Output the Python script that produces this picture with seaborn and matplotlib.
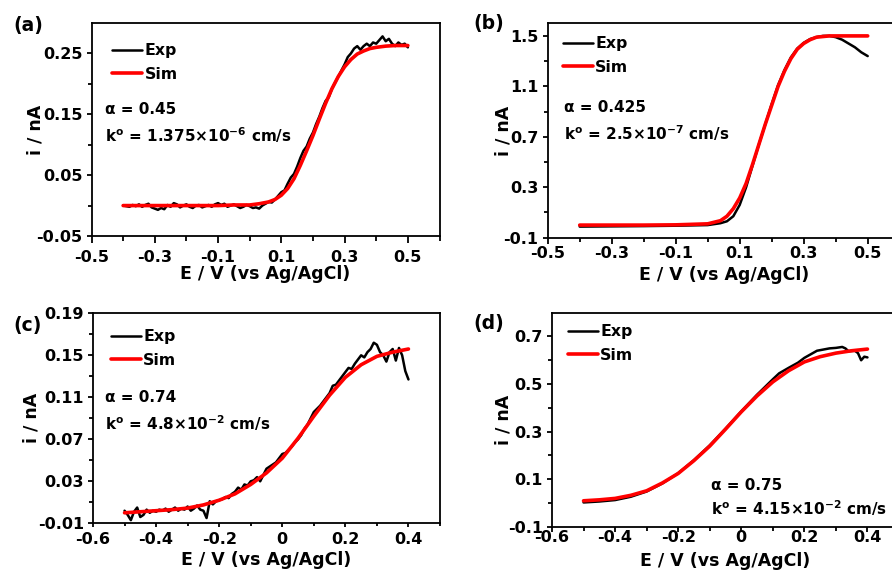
import matplotlib
matplotlib.use("Agg")
import matplotlib.pyplot as plt
import seaborn as sns
from matplotlib.ticker import FixedLocator

# ---------------- data ----------------
# panel (a)
a_exp_E = [-0.40, -0.39, -0.38, -0.37, -0.36, -0.35, -0.34, -0.33, -0.32, -0.31,
           -0.30, -0.29, -0.28, -0.27, -0.26, -0.25, -0.24, -0.23, -0.22, -0.21,
           -0.20, -0.19, -0.18, -0.17, -0.16, -0.15, -0.14, -0.13, -0.12, -0.11,
           -0.10, -0.09, -0.08, -0.07, -0.06, -0.05, -0.04, -0.03, -0.02, -0.01,
           0.00, 0.01, 0.02, 0.03, 0.04, 0.05, 0.06, 0.07, 0.08, 0.09,
           0.10, 0.11, 0.12, 0.13, 0.14, 0.15, 0.16, 0.17, 0.18, 0.19,
           0.20, 0.21, 0.22, 0.23, 0.24, 0.25, 0.26, 0.27, 0.28, 0.29,
           0.30, 0.31, 0.32, 0.33, 0.34, 0.35, 0.36, 0.37, 0.38, 0.39,
           0.40, 0.41, 0.42, 0.43, 0.44, 0.45, 0.46, 0.47, 0.48, 0.49, 0.50]
a_exp_i = [0.000, -0.001, -0.002, 0.001, -0.001, 0.002, -0.002, 0.001, 0.003, -0.003,
           -0.005, -0.007, -0.004, -0.006, 0.001, -0.002, 0.004, 0.002, -0.003, 0.000,
           0.002, -0.002, -0.004, 0.000, 0.001, -0.003, -0.001, 0.001, -0.002, 0.002,
           0.004, 0.001, 0.003, -0.002, 0.000, 0.002, -0.001, -0.004, -0.002, 0.001,
           -0.001, -0.004, -0.003, -0.005, 0.000, 0.003, 0.006, 0.005, 0.010, 0.016,
           0.022, 0.025, 0.036, 0.046, 0.052, 0.064, 0.078, 0.090, 0.097, 0.110,
           0.120, 0.134, 0.146, 0.160, 0.172, 0.178, 0.192, 0.202, 0.212, 0.222,
           0.232, 0.244, 0.250, 0.258, 0.262, 0.256, 0.262, 0.266, 0.262, 0.268,
           0.266, 0.272, 0.278, 0.270, 0.274, 0.266, 0.262, 0.268, 0.264, 0.266, 0.260]
a_sim_E = [-0.40, -0.30, -0.20, -0.10, -0.05, 0.00, 0.03, 0.06, 0.08, 0.10, 0.12,
           0.14, 0.16, 0.18, 0.20, 0.22, 0.24, 0.26, 0.28, 0.30, 0.32, 0.34, 0.36,
           0.38, 0.40, 0.43, 0.46, 0.50]
a_sim_i = [0.000, 0.000, 0.000, 0.000, 0.001, 0.001, 0.003, 0.006, 0.010, 0.017, 0.028,
           0.044, 0.066, 0.090, 0.115, 0.142, 0.168, 0.192, 0.212, 0.228, 0.240, 0.249, 0.254,
           0.258, 0.260, 0.262, 0.263, 0.263]

# panel (b)
b_exp_E = [-0.40, -0.30, -0.20, -0.10, 0.00, 0.04, 0.06, 0.08, 0.10, 0.12, 0.14,
           0.16, 0.18, 0.20, 0.22, 0.24, 0.26, 0.28, 0.30, 0.32, 0.34, 0.36, 0.38,
           0.40, 0.42, 0.44, 0.46, 0.48, 0.50]
b_exp_i = [-0.012, -0.010, -0.008, -0.005, 0.000, 0.015, 0.030, 0.070, 0.160, 0.300, 0.470,
           0.640, 0.800, 0.960, 1.110, 1.230, 1.330, 1.400, 1.445, 1.475, 1.490, 1.500, 1.500,
           1.490, 1.470, 1.440, 1.410, 1.370, 1.340]
b_sim_E = [-0.40, -0.20, -0.10, 0.00, 0.04, 0.06, 0.08, 0.10, 0.12, 0.14, 0.16,
           0.18, 0.20, 0.22, 0.24, 0.26, 0.28, 0.30, 0.32, 0.34, 0.38, 0.50]
b_sim_i = [0.000, 0.000, 0.002, 0.010, 0.035, 0.070, 0.130, 0.215, 0.330, 0.480, 0.640,
           0.800, 0.950, 1.100, 1.220, 1.320, 1.395, 1.440, 1.470, 1.490, 1.500, 1.500]

# panel (c)
c_exp_E = [-0.50, -0.49, -0.48, -0.47, -0.46, -0.45, -0.44, -0.43, -0.42, -0.41,
           -0.40, -0.39, -0.38, -0.37, -0.36, -0.35, -0.34, -0.33, -0.32, -0.31,
           -0.30, -0.29, -0.28, -0.27, -0.26, -0.25, -0.24, -0.23, -0.22, -0.21,
           -0.20, -0.19, -0.18, -0.17, -0.16, -0.15, -0.14, -0.13, -0.12, -0.11,
           -0.10, -0.09, -0.08, -0.07, -0.06, -0.05, -0.04, -0.03, -0.02, -0.01,
           0.00, 0.01, 0.02, 0.03, 0.04, 0.05, 0.06, 0.07, 0.08, 0.09,
           0.10, 0.11, 0.12, 0.13, 0.14, 0.15, 0.16, 0.17, 0.18, 0.19,
           0.20, 0.21, 0.22, 0.23, 0.24, 0.25, 0.26, 0.27, 0.28, 0.29,
           0.30, 0.31, 0.32, 0.33, 0.34, 0.35, 0.36, 0.37, 0.38, 0.39, 0.40]
c_exp_i = [0.002, -0.002, -0.007, 0.001, 0.005, -0.004, -0.002, 0.003, 0.000, 0.002,
           0.001, 0.003, 0.002, 0.004, 0.001, 0.003, 0.005, 0.002, 0.004, 0.003,
           0.006, 0.002, 0.004, 0.007, 0.003, 0.002, -0.005, 0.011, 0.008, 0.011,
           0.012, 0.013, 0.015, 0.014, 0.018, 0.020, 0.024, 0.022, 0.027, 0.026,
           0.030, 0.031, 0.034, 0.030, 0.036, 0.042, 0.044, 0.046, 0.048, 0.052,
           0.056, 0.057, 0.060, 0.063, 0.067, 0.070, 0.074, 0.080, 0.084, 0.090,
           0.096, 0.099, 0.102, 0.106, 0.110, 0.114, 0.121, 0.122, 0.126, 0.130,
           0.134, 0.138, 0.137, 0.142, 0.146, 0.150, 0.148, 0.153, 0.156, 0.162,
           0.160, 0.153, 0.150, 0.144, 0.153, 0.156, 0.145, 0.157, 0.150, 0.135, 0.127]
c_sim_E = [-0.50, -0.45, -0.40, -0.35, -0.30, -0.25, -0.20, -0.15, -0.10, -0.05,
           0.00, 0.05, 0.10, 0.15, 0.20, 0.25, 0.30, 0.35, 0.40]
c_sim_i = [0.000, 0.001, 0.002, 0.003, 0.0045, 0.0075, 0.012, 0.018, 0.027, 0.038,
           0.052, 0.071, 0.092, 0.112, 0.129, 0.141, 0.149, 0.153, 0.156]

# panel (d)
d_exp_E = [-0.50, -0.45, -0.40, -0.35, -0.30, -0.25, -0.20, -0.15, -0.10, -0.05,
           0.00, 0.05, 0.10, 0.12, 0.15, 0.18, 0.20, 0.22, 0.24, 0.26, 0.28, 0.30,
           0.32, 0.33, 0.34, 0.36, 0.37, 0.38, 0.39, 0.40]
d_exp_i = [0.002, 0.006, 0.012, 0.026, 0.048, 0.082, 0.125, 0.180, 0.242, 0.312,
           0.385, 0.455, 0.520, 0.545, 0.568, 0.590, 0.610, 0.625, 0.640, 0.645, 0.650, 0.652,
           0.656, 0.650, 0.638, 0.640, 0.630, 0.600, 0.615, 0.612]
d_sim_E = [-0.50, -0.45, -0.40, -0.35, -0.30, -0.25, -0.20, -0.15, -0.10, -0.05,
           0.00, 0.05, 0.10, 0.15, 0.20, 0.25, 0.30, 0.35, 0.40]
d_sim_i = [0.009, 0.013, 0.019, 0.032, 0.051, 0.084, 0.124, 0.178, 0.239, 0.310,
           0.383, 0.450, 0.509, 0.556, 0.593, 0.615, 0.630, 0.640, 0.647]

# axis ticks / labels
x_major_ab = [-0.5, -0.3, -0.1, 0.1, 0.3, 0.5]
x_minor_ab = [-0.4, -0.2, 0.0, 0.2, 0.4, 0.6]
x_labels_ab = ["-0.5", "-0.3", "-0.1", "0.1", "0.3", "0.5"]
x_major_cd = [-0.6, -0.4, -0.2, 0.0, 0.2, 0.4]
x_minor_cd = [-0.5, -0.3, -0.1, 0.1, 0.3, 0.5]
x_labels_cd = ["-0.6", "-0.4", "-0.2", "0", "0.2", "0.4"]
y_major_a = [-0.05, 0.05, 0.15, 0.25]
y_minor_a = [0.0, 0.1, 0.2]
y_labels_a = ["-0.05", "0.05", "0.15", "0.25"]
y_major_b = [-0.1, 0.3, 0.7, 1.1, 1.5]
y_minor_b = [0.1, 0.5, 0.9, 1.3]
y_labels_b = ["-0.1", "0.3", "0.7", "1.1", "1.5"]
y_major_c = [-0.01, 0.03, 0.07, 0.11, 0.15, 0.19]
y_minor_c = [0.01, 0.05, 0.09, 0.13, 0.17]
y_labels_c = ["-0.01", "0.03", "0.07", "0.11", "0.15", "0.19"]
y_major_d = [-0.1, 0.1, 0.3, 0.5, 0.7]
y_minor_d = [0.0, 0.2, 0.4, 0.6]
y_labels_d = ["-0.1", "0.1", "0.3", "0.5", "0.7"]

panel_tags = ["(a)", "(b)", "(c)", "(d)"]
alpha_texts = ["α = 0.45", "α = 0.425", "α = 0.74", "α = 0.75"]
k_texts = [r"k$^{o}$ = 1.375×10$^{-6}$ cm/s", r"k$^{o}$ = 2.5×10$^{-7}$ cm/s",
           r"k$^{o}$ = 4.8×10$^{-2}$ cm/s", r"k$^{o}$ = 4.15×10$^{-2}$ cm/s"]
series_names = ["Exp", "Sim"]
x_title = "E / V (vs Ag/AgCl)"
y_title = "i / nA"

# ---------------- style ----------------
sns.set_theme(style="ticks")
plt.rcParams.update({
    "font.family": ["DejaVu Sans"],
    "font.weight": "bold",
    "axes.labelweight": "bold",
    "axes.unicode_minus": False,
    "mathtext.fontset": "dejavusans",
    "mathtext.default": "bf",
    "axes.linewidth": 1.3,
    "axes.edgecolor": "black",
    "axes.labelcolor": "black",
    "text.color": "black",
    "xtick.color": "black",
    "ytick.color": "black",
    "xtick.labelcolor": "black",
    "ytick.labelcolor": "black",
    "xtick.direction": "out",
    "ytick.direction": "out",
})

W, H = 892, 574
fig = plt.figure(figsize=(W / 100, H / 100), dpi=100)
fig.patch.set_facecolor("white")


def px_rect(left, top, width, height):
    return [left / W, (H - top - height) / H, width / W, height / H]


panels = [
    dict(rect=px_rect(91.5, 23, 348, 213), exp=(a_exp_E, a_exp_i), sim=(a_sim_E, a_sim_i),
         xlim=(-0.5, 0.6), ylim=(-0.05, 0.30), xmaj=x_major_ab, xmin=x_minor_ab, xlab=x_labels_ab,
         ymaj=y_major_a, ymin=y_minor_a, ylab=y_labels_a, leg=(0.060, 0.905),
         tag=(13, 25), txt=(105, 110, 135),
         xtl=4.7, xpad=5.3, xlp=-0.1, ylp=-5.8),
    dict(rect=px_rect(547.7, 23.3, 352, 214.4), exp=(b_exp_E, b_exp_i), sim=(b_sim_E, b_sim_i),
         xlim=(-0.5, 0.6), ylim=(-0.1, 1.6), xmaj=x_major_ab, xmin=x_minor_ab, xlab=x_labels_ab,
         ymaj=y_major_b, ymin=y_minor_b, ylab=y_labels_b, leg=(0.043, 0.94),
         tag=(473, 23), txt=(564, 108, 133),
         xtl=4.0, xpad=2.3, xlp=3.2, ylp=-6.3),
    dict(rect=px_rect(93, 313.3, 347, 210), exp=(c_exp_E, c_exp_i), sim=(c_sim_E, c_sim_i),
         xlim=(-0.6, 0.5), ylim=(-0.01, 0.19), xmaj=x_major_cd, xmin=x_minor_cd, xlab=x_labels_cd,
         ymaj=y_major_c, ymin=y_minor_c, ylab=y_labels_c, leg=(0.052, 0.925),
         tag=(13, 325), txt=(105, 398, 423),
         xtl=2.9, xpad=3.3, xlp=2.8, ylp=-2.2),
    dict(rect=px_rect(552, 312.7, 347, 214), exp=(d_exp_E, d_exp_i), sim=(d_sim_E, d_sim_i),
         xlim=(-0.6, 0.5), ylim=(-0.1, 0.8), xmaj=x_major_cd, xmin=x_minor_cd, xlab=x_labels_cd,
         ymaj=y_major_d, ymin=y_minor_d, ylab=y_labels_d, leg=(0.046, 0.947),
         tag=(473, 323), txt=(711, 485, 508),
         xtl=3.6, xpad=-0.9, xlp=4.6, ylp=-3.2),
]

for k, p in enumerate(panels):
    ax = fig.add_axes(p["rect"])
    ax.set_facecolor("white")
    sns.lineplot(x=p["exp"][0], y=p["exp"][1], color="black", linewidth=1.8,
                 estimator=None, sort=False, ax=ax, label=series_names[0])
    sns.lineplot(x=p["sim"][0], y=p["sim"][1], color="#ff0000", linewidth=2.6,
                 estimator=None, sort=False, ax=ax, label=series_names[1])
    ax.set_xlim(*p["xlim"])
    ax.set_ylim(*p["ylim"])
    ax.xaxis.set_major_locator(FixedLocator(p["xmaj"]))
    ax.xaxis.set_minor_locator(FixedLocator(p["xmin"]))
    ax.yaxis.set_major_locator(FixedLocator(p["ymaj"]))
    ax.yaxis.set_minor_locator(FixedLocator(p["ymin"]))
    ax.set_xticklabels(p["xlab"], fontsize=11.5, fontweight="bold")
    ax.set_yticklabels(p["ylab"], fontsize=11.5, fontweight="bold")
    ax.tick_params(axis="x", which="major", length=p["xtl"], width=1.3, pad=p["xpad"])
    ax.tick_params(axis="x", which="minor", length=p["xtl"] * 0.75, width=1.3)
    ax.tick_params(axis="y", which="major", length=3.6, width=1.3, pad=3)
    ax.tick_params(axis="y", which="minor", length=2.8, width=1.3)
    ax.set_xlabel(x_title, fontsize=12.5, fontweight="bold", labelpad=p["xlp"])
    ax.set_ylabel(y_title, fontsize=12.5, fontweight="bold", labelpad=p["ylp"])
    for s in ax.spines.values():
        s.set_linewidth(1.3)
        s.set_color("black")
    ax.legend(loc="upper left", bbox_to_anchor=p["leg"], frameon=False,
              handlelength=1.9, handletextpad=0.15, labelspacing=0.55,
              borderpad=0, borderaxespad=0,
              prop={"weight": "bold", "size": 11.3})
    tx, ty, ky = p["txt"]
    fig.text(tx / W, 1 - ty / H, alpha_texts[k], fontsize=11, fontweight="bold",
             ha="left", va="center")
    fig.text(tx / W, 1 - ky / H, k_texts[k], fontsize=11, fontweight="bold",
             ha="left", va="center")
    gx, gy = p["tag"]
    fig.text(gx / W, 1 - gy / H, panel_tags[k], fontsize=13.5, fontweight="bold",
             ha="left", va="center")

fig.savefig("out.png", dpi=100, facecolor="white")
